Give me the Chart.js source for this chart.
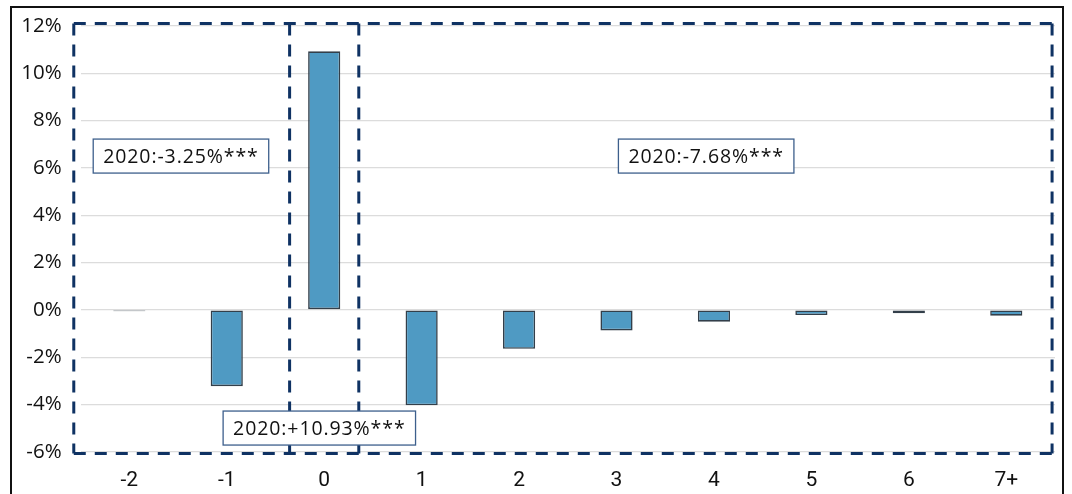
<!DOCTYPE html>
<html>
<head>
<meta charset="utf-8">
<script src="https://cdn.jsdelivr.net/npm/chart.js@4/dist/chart.umd.min.js"></script>
<style>
  html, body { margin: 0; padding: 0; background: #ffffff; }
  #wrap { width: 1072px; height: 494px; }
</style>
</head>
<body>
<div id="wrap"><canvas id="c" width="1072" height="494"></canvas></div>
<script>
// Event-time categories and average effect (%) per period
const categories = ['-2', '-1', '0', '1', '2', '3', '4', '5', '6', '7+'];
const effects = [-0.02, -3.23, 10.93, -4.04, -1.65, -0.87, -0.50, -0.22, -0.15, -0.25];
const yTicks = [12, 10, 8, 6, 4, 2, 0, -2, -4, -6];

// Grouped windows (category-index bounds) and their summary labels
const windowEdges = [-0.57, 1.645, 2.355, 9.47];
const windowTop = 12.11;
const windowBottom = -6.08;
const windowLabels = ['2020:-3.25%***', '2020:+10.93%***', '2020:-7.68%***'];
const labelAnchorsX = [0.53, 1.95, 5.92];
const labelAnchorsY = [6.5, -5.0, 6.5];

const navy = '#0f3263';

const framePlugin = {
  id: 'frame',
  beforeDraw(chart) {
    const ctx = chart.ctx;
    ctx.save();
    ctx.fillStyle = '#ffffff';
    ctx.fillRect(0, 0, chart.width, chart.height);
    ctx.strokeStyle = '#111111';
    ctx.lineWidth = 2;
    ctx.strokeRect(11, 7, 1052, 500);
    ctx.restore();
  }
};

const windowsPlugin = {
  id: 'windows',
  afterDatasetsDraw(chart) {
    const ctx = chart.ctx;
    const xs = chart.scales.x, ys = chart.scales.y;
    const px = windowEdges.map(v => xs.getPixelForValue(v));
    const top = ys.getPixelForValue(windowTop);
    const bot = ys.getPixelForValue(windowBottom);
    ctx.save();
    ctx.strokeStyle = navy;
    ctx.lineWidth = 3;
    ctx.setLineDash([12, 9]);
    ctx.beginPath();
    ctx.moveTo(px[0], top); ctx.lineTo(px[px.length - 1], top);
    ctx.moveTo(px[0], bot); ctx.lineTo(px[px.length - 1], bot);
    px.forEach(x => { ctx.moveTo(x, top); ctx.lineTo(x, bot); });
    ctx.stroke();
    ctx.setLineDash([]);

    ctx.font = '19.5px "Open Sans", Roboto, sans-serif';
    ctx.letterSpacing = '0.9px';
    ctx.textAlign = 'center';
    ctx.textBaseline = 'middle';
    windowLabels.forEach((t, i) => {
      const cx = xs.getPixelForValue(labelAnchorsX[i]);
      const cy = ys.getPixelForValue(labelAnchorsY[i]);
      const w = ctx.measureText(t).width + 20;
      const h = 34;
      ctx.fillStyle = '#ffffff';
      ctx.fillRect(cx - w / 2, cy - h / 2, w, h);
      ctx.strokeStyle = '#3d5f8c';
      ctx.lineWidth = 1.3;
      ctx.strokeRect(cx - w / 2, cy - h / 2, w, h);
      ctx.fillStyle = '#111111';
      ctx.fillText(t, cx, cy + 1);
    });
    ctx.restore();
  }
};

new Chart(document.getElementById('c'), {
  type: 'bar',
  data: {
    labels: categories,
    datasets: [{
      data: effects,
      backgroundColor: '#4f9ac3',
      borderColor: '#333f4a',
      borderWidth: 1.6,
      borderSkipped: false,
      minBarLength: 1.5,
      barPercentage: 0.33,
      categoryPercentage: 1.0
    }]
  },
  options: {
    responsive: false,
    animation: false,
    devicePixelRatio: 1,
    layout: { padding: { left: 0, right: 17, top: 26, bottom: 0 } },
    plugins: { legend: { display: false }, tooltip: { enabled: false } },
    scales: {
      x: {
        grid: { display: false },
        border: { display: false },
        ticks: {
          color: '#111111',
          padding: 8,
          font: { family: 'Roboto, sans-serif', size: 21 }
        },
        afterFit(scale) { scale.height = 42.3; }
      },
      y: {
        min: -6,
        max: 12,
        grid: { color: '#dcdcdc', lineWidth: 1.2, drawTicks: false },
        border: { display: false },
        afterBuildTicks(scale) { scale.ticks = yTicks.map(v => ({ value: v })); },
        ticks: {
          color: '#111111',
          padding: 19,
          font: { family: '"Open Sans", Roboto, sans-serif', size: 20.5 },
          callback: v => v + '%'
        },
        afterFit(scale) {
          scale.width = 80.6;
          scale.paddingTop = 0;
          scale.paddingBottom = 0;
        }
      }
    }
  },
  plugins: [framePlugin, windowsPlugin]
});
</script>
</body>
</html>
